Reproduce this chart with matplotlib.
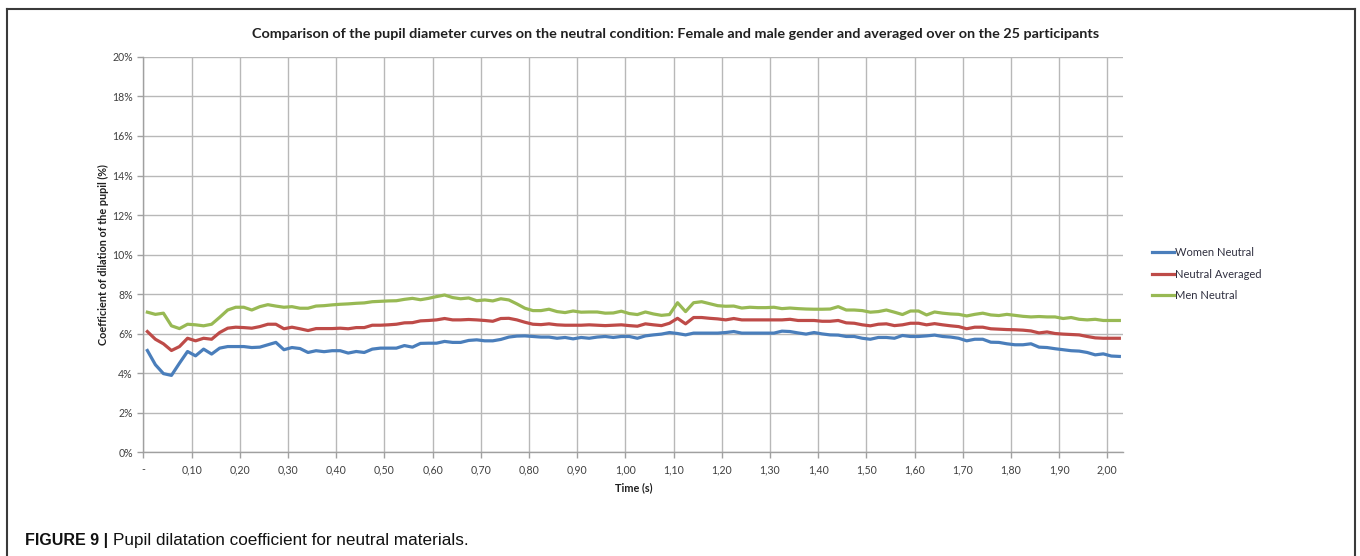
import numpy as np
import matplotlib
matplotlib.use("Agg")
import matplotlib.pyplot as plt
from matplotlib.lines import Line2D

# pupil dilation coefficient (%), one value per eye-tracker sample (60 Hz)
women_neutral = [
    5.14, 4.42, 3.97, 3.88, 4.50, 5.09, 4.87, 5.21, 4.96, 5.26,
    5.34, 5.34, 5.34, 5.29, 5.31, 5.43, 5.55, 5.18, 5.29, 5.24,
    5.04, 5.13, 5.08, 5.13, 5.13, 5.01, 5.09, 5.04, 5.21, 5.26,
    5.26, 5.26, 5.39, 5.31, 5.50, 5.51, 5.51, 5.60, 5.55, 5.55,
    5.65, 5.68, 5.63, 5.63, 5.70, 5.82, 5.87, 5.88, 5.85, 5.82,
    5.82, 5.76, 5.80, 5.73, 5.80, 5.76, 5.82, 5.85, 5.80, 5.85,
    5.85, 5.76, 5.88, 5.93, 5.97, 6.05, 6.00, 5.93, 6.02, 6.02,
    6.02, 6.02, 6.05, 6.10, 6.02, 6.02, 6.02, 6.02, 6.02, 6.12,
    6.10, 6.03, 5.97, 6.05, 5.98, 5.93, 5.92, 5.85, 5.85, 5.76,
    5.71, 5.80, 5.80, 5.76, 5.90, 5.85, 5.85, 5.88, 5.92, 5.85,
    5.82, 5.76, 5.63, 5.71, 5.71, 5.56, 5.55, 5.48, 5.43, 5.43,
    5.48, 5.31, 5.29, 5.23, 5.18, 5.13, 5.11, 5.04, 4.92, 4.97,
    4.86, 4.84,
]
neutral_averaged = [
    6.10, 5.71, 5.48, 5.14, 5.34, 5.76, 5.63, 5.76, 5.71, 6.05,
    6.27, 6.32, 6.30, 6.27, 6.35, 6.47, 6.47, 6.24, 6.32, 6.24,
    6.15, 6.25, 6.25, 6.25, 6.27, 6.24, 6.30, 6.30, 6.42, 6.42,
    6.44, 6.47, 6.54, 6.55, 6.64, 6.66, 6.69, 6.76, 6.69, 6.69,
    6.71, 6.69, 6.66, 6.62, 6.76, 6.77, 6.69, 6.57, 6.47, 6.45,
    6.49, 6.44, 6.42, 6.42, 6.42, 6.44, 6.42, 6.40, 6.42, 6.44,
    6.40, 6.37, 6.49, 6.44, 6.40, 6.52, 6.77, 6.49, 6.81, 6.81,
    6.77, 6.74, 6.69, 6.76, 6.69, 6.69, 6.69, 6.69, 6.69, 6.69,
    6.72, 6.66, 6.66, 6.66, 6.62, 6.62, 6.66, 6.54, 6.52, 6.44,
    6.39, 6.47, 6.49, 6.40, 6.44, 6.52, 6.52, 6.44, 6.50, 6.44,
    6.39, 6.35, 6.24, 6.32, 6.32, 6.24, 6.22, 6.20, 6.19, 6.17,
    6.13, 6.03, 6.08, 6.00, 5.97, 5.95, 5.93, 5.85, 5.78, 5.76,
    5.76, 5.76,
]
men_neutral = [
    7.08, 6.97, 7.03, 6.39, 6.25, 6.47, 6.44, 6.39, 6.47, 6.82,
    7.19, 7.33, 7.33, 7.19, 7.36, 7.46, 7.39, 7.33, 7.36, 7.28,
    7.28, 7.39, 7.41, 7.45, 7.48, 7.50, 7.53, 7.55, 7.61, 7.63,
    7.65, 7.66, 7.73, 7.78, 7.71, 7.78, 7.87, 7.95, 7.82, 7.76,
    7.80, 7.66, 7.70, 7.65, 7.76, 7.70, 7.50, 7.28, 7.16, 7.16,
    7.23, 7.11, 7.06, 7.14, 7.08, 7.09, 7.09, 7.03, 7.04, 7.13,
    7.01, 6.96, 7.09, 6.99, 6.92, 6.96, 7.56, 7.11, 7.56, 7.61,
    7.51, 7.41, 7.38, 7.39, 7.29, 7.33, 7.31, 7.31, 7.33, 7.26,
    7.29, 7.26, 7.24, 7.23, 7.23, 7.24, 7.36, 7.19, 7.19, 7.16,
    7.08, 7.11, 7.19, 7.08, 6.96, 7.14, 7.14, 6.94, 7.09, 7.03,
    6.99, 6.97, 6.89, 6.97, 7.03, 6.94, 6.91, 6.97, 6.92, 6.87,
    6.84, 6.86, 6.84, 6.84, 6.76, 6.81, 6.72, 6.69, 6.72, 6.66,
    6.66, 6.66,
]
series_names = ["Women Neutral", "Neutral Averaged", "Men Neutral"]
series_colors = ["#4a7ebb", "#be4b48", "#98b954"]

time_ticks = [i / 10 for i in range(21)]
time_labels = ["-"] + [f"{t:.2f}".replace(".", ",") for t in time_ticks[1:]]
pct_ticks = list(range(0, 21, 2))

SAMPLE_RATE = 60
n = len(women_neutral)
time_s = (np.arange(n) + 0.5) / SAMPLE_RATE

fig = plt.figure(figsize=(13.6, 5.56), dpi=100)
ax = fig.add_axes([0.1054, 0.187, 0.7206, 0.7105])

for vals, name, col in zip([women_neutral, neutral_averaged, men_neutral],
                           series_names, series_colors):
    ax.plot(time_s, vals, color=col, lw=2.3, label=name, solid_joinstyle="round")

ax.set_xlim(0, n / SAMPLE_RATE)
ax.set_ylim(0, 20)
ax.set_xticks(time_ticks)
ax.set_xticklabels(time_labels)
ax.set_yticks(pct_ticks)
ax.set_yticklabels([f"{p}%" for p in pct_ticks])
ax.grid(True, color="#b8b8b8", lw=1.0)
ax.set_axisbelow(True)
for s in ["top", "right"]:
    ax.spines[s].set_visible(False)
for s in ["left", "bottom"]:
    ax.spines[s].set_color("#a0a0a0")
    ax.spines[s].set_linewidth(1.0)
ax.tick_params(axis="both", colors="#a0a0a0", labelcolor="#404040",
               labelsize=7.6, length=4, width=1.0)
ax.tick_params(axis="x", pad=5)
for lab in ax.get_xticklabels() + ax.get_yticklabels():
    lab.set_family("Lato")

ax.set_xlabel("Time (s)", fontsize=7.8, fontweight="bold", family="Lato",
              color="#202020", labelpad=5)
ax.set_ylabel("Coefficient of dilation of the pupil (%)", fontsize=7.8,
              fontweight="bold", family="Lato", color="#202020", labelpad=2)

fig.text(0.497, 0.939,
         "Comparison of the pupil diameter curves on the neutral condition: "
         "Female and male gender and averaged over on the 25 participants",
         ha="center", va="center", fontsize=10.4, fontweight="bold",
         family="Lato", color="#202020")

leg = fig.legend(loc="center left", bbox_to_anchor=(0.840, 0.507),
                 frameon=False, prop={"family": "Lato", "size": 8},
                 handlelength=1.9, handletextpad=0.15, labelspacing=0.95)
for t in leg.get_texts():
    t.set_color("#303040")

# frame around the chart, open at the bottom
border = dict(color="#3a3a3a", lw=1.5, transform=fig.transFigure)
fig.add_artist(Line2D([7 / 1360, 7 / 1360], [0, 1 - 9 / 556], **border))
fig.add_artist(Line2D([7 / 1360, 1355 / 1360], [1 - 9 / 556, 1 - 9 / 556], **border))
fig.add_artist(Line2D([1355 / 1360, 1355 / 1360], [0, 1 - 9 / 556], **border))

fig.text(25 / 1360, 1 - 541 / 556, "FIGURE 9 |", fontsize=11.5, fontweight="bold",
         family="Liberation Sans", va="center", ha="left", color="#111111")
fig.text(113 / 1360, 1 - 541 / 556, "Pupil dilatation coefficient for neutral materials.",
         fontsize=12.3, family="Liberation Sans", va="center", ha="left", color="#111111")

fig.savefig("out.png", dpi=100, facecolor="white")
